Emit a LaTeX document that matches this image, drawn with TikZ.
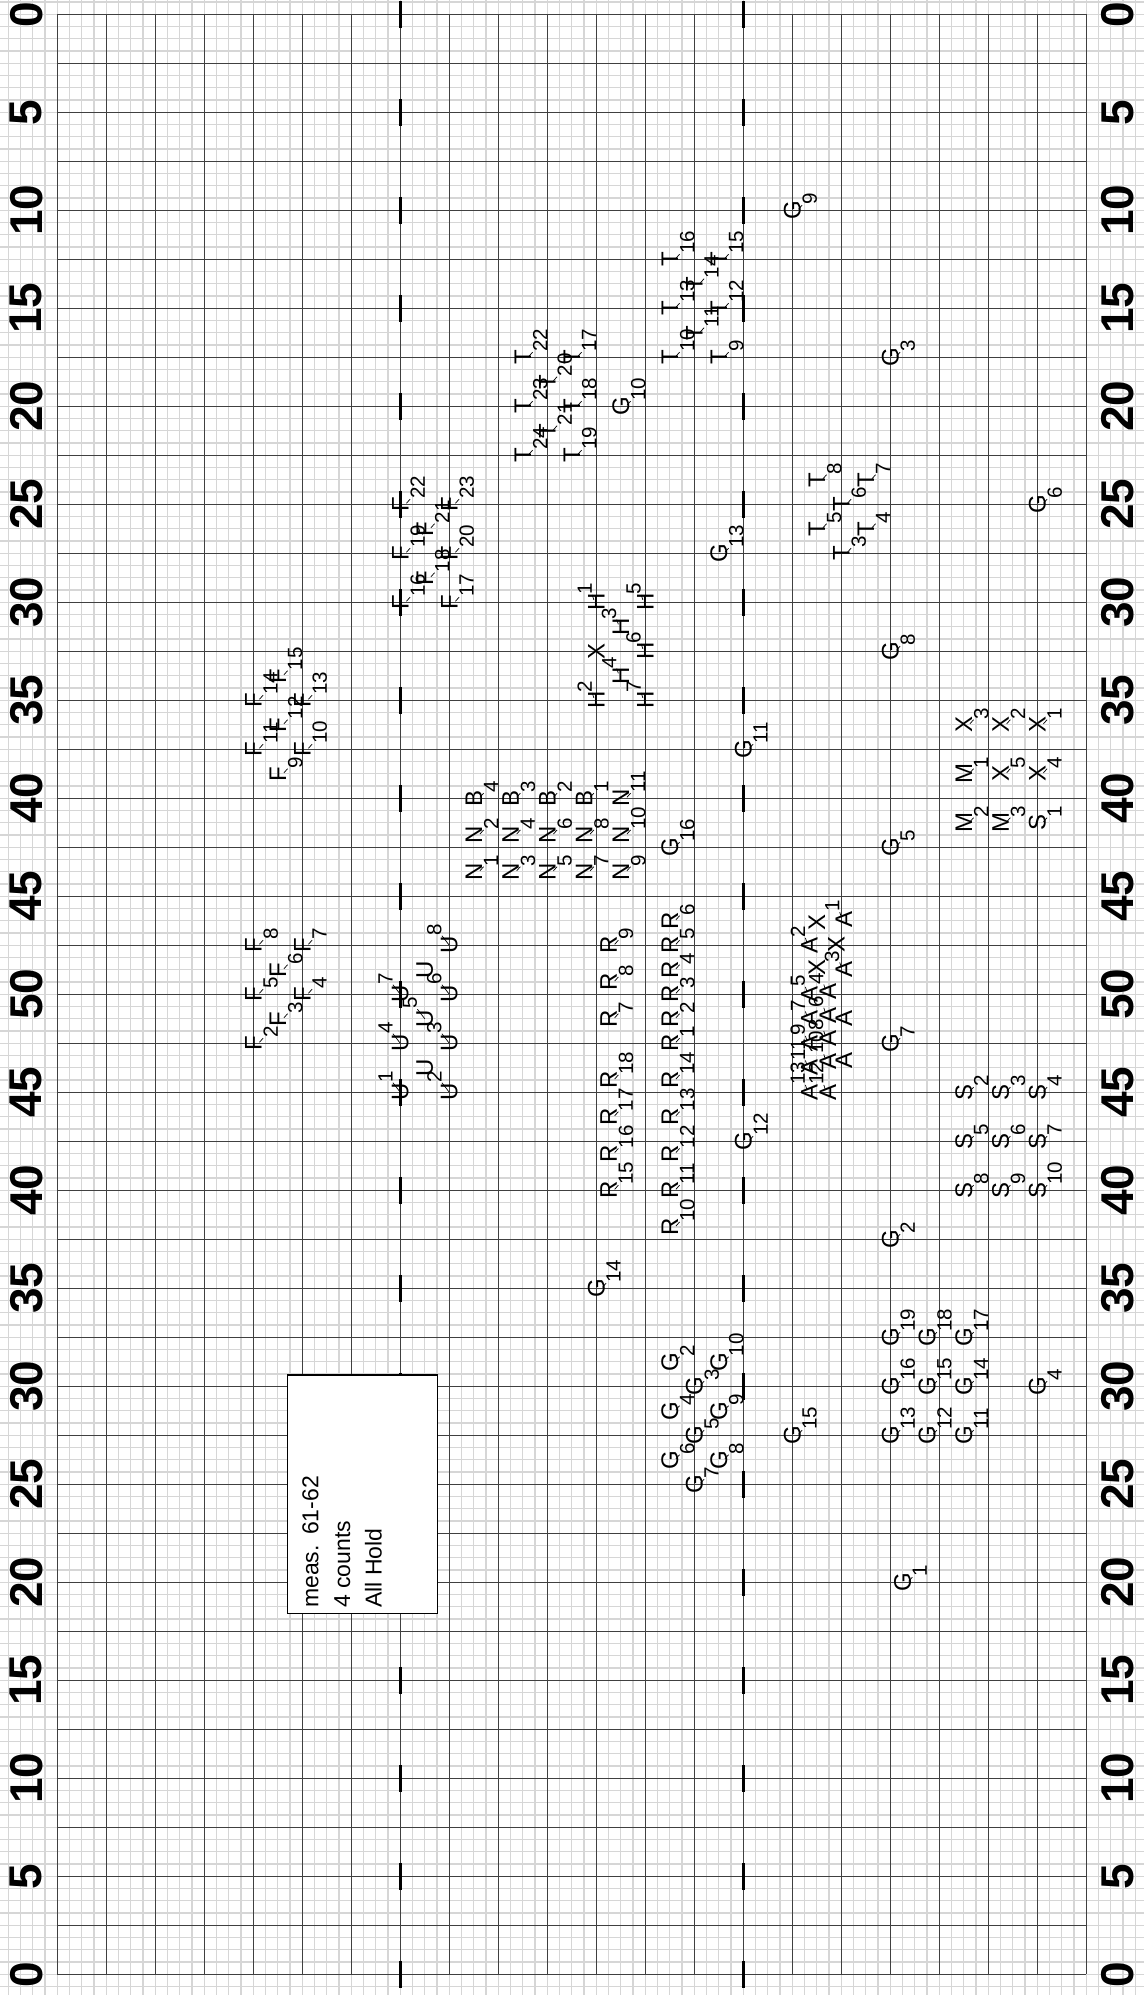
\documentclass[tikz,border=0pt]{standalone}
\usepackage{fontspec}
\setmainfont{Liberation Sans}
\usetikzlibrary{calc}
\definecolor{lightgrid}{HTML}{D6D6D6}
\definecolor{majorgrid}{HTML}{404040}
\tikzset{
 lgrid/.style={draw=lightgrid, line width=0.6pt},
 mgrid/.style={draw=majorgrid, line width=0.75pt},
 hashmark/.style={draw=black, line width=1.4pt},
 yardnum/.style={rotate=90, inner sep=0pt, font=\fontsize{23}{23}\selectfont\bfseries},
 mlet/.style={rotate=90, inner sep=0pt, font=\fontsize{12}{12}\selectfont},
 mnum/.style={rotate=90, inner sep=0pt, font=\fontsize{10.3}{10.3}\selectfont},
 leader/.style={draw=black, line width=0.35pt},
 memo/.style={rotate=90, inner sep=0pt, anchor=base west, font=\fontsize{11.5}{11.5}\selectfont},
}
% sub-style label (number to the lower right of the letter)
\newcommand\mkb[5]{%
  \coordinate (#1) at (#2,#3);
  \node[mnum,anchor=north west] (#1n) at ($(#1)+(0.8,-0.42)$) {#5};
  \draw[leader] ($(#1)+(0.5,-0.08)$) -- (#1n.north west);
  \node[mlet] (#1l) at (#1) {#4};}
% super-style label (number to the upper right of the letter)
\newcommand\mkp[5]{%
  \coordinate (#1) at (#2,#3);
  \node[mnum,anchor=south west] (#1n) at ($(#1)+(-0.33,-0.6)$) {#5};
  \draw[leader] ($(#1)+(-0.2,-0.2)$) -- (#1n.south west);
  \node[mlet] (#1l) at (#1) {#4};}
% super-style label placed farther away
\newcommand\mku[5]{%
  \coordinate (#1) at (#2,#3);
  \node[mnum,anchor=south west] (#1n) at ($(#1)+(-0.6,-0.78)$) {#5};
  \draw[leader] (#1) -- (#1n.south west);
  \node[mlet] (#1l) at (#1) {#4};}
% letter only
\newcommand\mkx[4]{%
  \coordinate (#1) at (#2,#3);
  \node[mlet] (#1l) at (#1) {#4};}
\begin{document}
\begin{tikzpicture}[x=6.125pt,y=-6.125pt]
\useasboundingbox (-4.678,-1.167) rectangle (88.71,161.69);
\fill[white] (-4.678,-1.167) rectangle (88.71,161.69);
% light step grid
\foreach \i in {-4,...,88} \draw[lgrid] (\i,-1.167) -- (\i,161.69);
\foreach \j in {-1,...,161} \draw[lgrid] (-4.678,\j) -- (88.71,\j);
% major grid
\foreach \i in {0,4,...,84} \draw[mgrid] (\i,0) -- (\i,160);
\foreach \j in {0,4,...,160} \draw[mgrid] (0,\j) -- (84,\j);
% hash marks
\foreach \j in {0,8,...,160} {
  \draw[hashmark] (28,\j-1.1) -- (28,\j+1.1);
  \draw[hashmark] (56,\j-1.1) -- (56,\j+1.1);
}
% yard numbers
\foreach \k in {0,...,20} {
  \pgfmathtruncatemacro\lab{5*min(\k,20-\k)}
  \node[yardnum] (yl\k) at (-2.531,8*\k) {\lab};
  \node[yardnum] (yr\k) at (86.56,8*\k) {\lab};
}
% memo box
\node[draw=black, line width=0.6pt, fill=white, inner sep=0pt, minimum width=75pt, minimum height=119.15pt] (memo) at (24.898,120.8) {};
\node[memo] (memo1) at (21.306,130.12) {meas.\hspace{0.45em}61-62};
\node[memo] (memo2) at (23.894,130.12) {4 counts};
\node[memo] (memo3) at (26.482,130.12) {All Hold};
% ---- G singles
\mkb{ga1}{69}{128}{G}{1}
\mkb{ga2}{68}{100}{G}{2}
\mkb{ga3}{68}{28}{G}{3}
\mkb{ga4}{80}{112}{G}{4}
\mkb{ga5}{68}{68}{G}{5}
\mkb{ga6}{80}{40}{G}{6}
\mkb{ga7}{68}{84}{G}{7}
\mkb{ga8}{68}{52}{G}{8}
\mkb{ga9}{60}{16}{G}{9}
\mkb{ga10}{46}{32}{G}{10}
\mkb{ga11}{56}{60}{G}{11}
\mkb{ga12}{56}{92}{G}{12}
\mkb{ga13}{54}{44}{G}{13}
\mkb{ga14}{44}{104}{G}{14}
\mkb{ga15}{60}{116}{G}{15}
\mkb{ga16}{50}{68}{G}{16}
% ---- G cluster
\mkb{gb2}{50}{110}{G}{2}
\mkb{gb3}{52}{112}{G}{3}
\mkb{gb4}{50}{114}{G}{4}
\mkb{gb5}{52}{116}{G}{5}
\mkb{gb6}{50}{118}{G}{6}
\mkb{gb7}{52}{120}{G}{7}
\mkb{gb8}{54}{118}{G}{8}
\mkb{gb9}{54}{114}{G}{9}
\mkb{gb10}{54}{110}{G}{10}
% ---- G block lower right
\mkb{gc11}{74}{116}{G}{11}
\mkb{gc12}{71}{116}{G}{12}
\mkb{gc13}{68}{116}{G}{13}
\mkb{gc14}{74}{112}{G}{14}
\mkb{gc15}{71}{112}{G}{15}
\mkb{gc16}{68}{112}{G}{16}
\mkb{gc17}{74}{108}{G}{17}
\mkb{gc18}{71}{108}{G}{18}
\mkb{gc19}{68}{108}{G}{19}
% ---- T
\mkb{t3}{64}{44}{T}{3}
\mkb{t4}{66}{42}{T}{4}
\mkb{t5}{62}{42}{T}{5}
\mkb{t6}{64}{40}{T}{6}
\mkb{t7}{66}{38}{T}{7}
\mkb{t8}{62}{38}{T}{8}
\mkb{t9}{54}{28}{T}{9}
\mkb{t10}{50}{28}{T}{10}
\mkb{t11}{52}{26}{T}{11}
\mkb{t12}{54}{24}{T}{12}
\mkb{t13}{50}{24}{T}{13}
\mkb{t14}{52}{22}{T}{14}
\mkb{t15}{54}{20}{T}{15}
\mkb{t16}{50}{20}{T}{16}
\mkb{t17}{42}{28}{T}{17}
\mkb{t18}{42}{32}{T}{18}
\mkb{t19}{42}{36}{T}{19}
\mkb{t20}{40}{30}{T}{20}
\mkb{t21}{40}{34}{T}{21}
\mkb{t22}{38}{28}{T}{22}
\mkb{t23}{38}{32}{T}{23}
\mkb{t24}{38}{36}{T}{24}
% ---- F
\mkb{f2}{16}{84}{F}{2}
\mkb{f3}{18}{82}{F}{3}
\mkb{f4}{20}{80}{F}{4}
\mkb{f5}{16}{80}{F}{5}
\mkb{f6}{18}{78}{F}{6}
\mkb{f7}{20}{76}{F}{7}
\mkb{f8}{16}{76}{F}{8}
\mkb{f9}{18}{62}{F}{9}
\mkb{f10}{20}{60}{F}{10}
\mkb{f11}{16}{60}{F}{11}
\mkb{f12}{18}{58}{F}{12}
\mkb{f13}{20}{56}{F}{13}
\mkb{f14}{16}{56}{F}{14}
\mkb{f15}{18}{54}{F}{15}
\mkb{f16}{28}{48}{F}{16}
\mkb{f17}{32}{48}{F}{17}
\mkb{f18}{30}{46}{F}{18}
\mkb{f19}{28}{44}{F}{19}
\mkb{f20}{32}{44}{F}{20}
\mkb{f21}{30}{42}{F}{21}
\mkb{f22}{28}{40}{F}{22}
\mkb{f23}{32}{40}{F}{23}
% ---- H
\mkp{h1}{44}{48}{H}{1}
\mkp{h2}{44}{56}{H}{2}
\mkp{h3}{46}{50}{H}{3}
\mkp{h4}{46}{54}{H}{4}
\mkp{h5}{48}{48}{H}{5}
\mkp{h6}{48}{52}{H}{6}
\mkp{h7}{48}{56}{H}{7}
\mkx{hx}{44}{52}{X}
% ---- B, N
\mkb{b1}{43}{64}{B}{1}
\mkb{b2}{40}{64}{B}{2}
\mkb{b3}{37}{64}{B}{3}
\mkb{b4}{34}{64}{B}{4}
\mkb{n1}{34}{70}{N}{1}
\mkb{n2}{34}{67}{N}{2}
\mkb{n3}{37}{70}{N}{3}
\mkb{n4}{37}{67}{N}{4}
\mkb{n5}{40}{70}{N}{5}
\mkb{n6}{40}{67}{N}{6}
\mkb{n7}{43}{70}{N}{7}
\mkb{n8}{43}{67}{N}{8}
\mkb{n9}{46}{70}{N}{9}
\mkb{n10}{46}{67}{N}{10}
\mkb{n11}{46}{64}{N}{11}
% ---- U
\mku{u1}{28}{88}{U}{1}
\mku{u2}{32}{88}{U}{2}
\mku{u3}{32}{84}{U}{3}
\mku{u4}{28}{84}{U}{4}
\mku{u5}{30}{82}{U}{5}
\mku{u6}{32}{80}{U}{6}
\mku{u7}{28}{80}{U}{7}
\mku{u8}{32}{76}{U}{8}
\mkx{ux1}{30}{86}{U}
\mkx{ux2}{30}{78}{U}
% ---- R
\mkb{r1}{50}{84}{R}{1}
\mkb{r2}{50}{82}{R}{2}
\mkb{r3}{50}{80}{R}{3}
\mkb{r4}{50}{78}{R}{4}
\mkb{r5}{50}{76}{R}{5}
\mkb{r6}{50}{74}{R}{6}
\mkb{r7}{45}{82}{R}{7}
\mkb{r8}{45}{79}{R}{8}
\mkb{r9}{45}{76}{R}{9}
\mkb{r10}{50}{99}{R}{10}
\mkb{r11}{50}{96}{R}{11}
\mkb{r12}{50}{93}{R}{12}
\mkb{r13}{50}{90}{R}{13}
\mkb{r14}{50}{87}{R}{14}
\mkb{r15}{45}{96}{R}{15}
\mkb{r16}{45}{93}{R}{16}
\mkb{r17}{45}{90}{R}{17}
\mkb{r18}{45}{87}{R}{18}
% ---- S, M, X
\mkb{s1}{80}{66}{S}{1}
\mkb{s2}{74}{88}{S}{2}
\mkb{s3}{77}{88}{S}{3}
\mkb{s4}{80}{88}{S}{4}
\mkb{s5}{74}{92}{S}{5}
\mkb{s6}{77}{92}{S}{6}
\mkb{s7}{80}{92}{S}{7}
\mkb{s8}{74}{96}{S}{8}
\mkb{s9}{77}{96}{S}{9}
\mkb{s10}{80}{96}{S}{10}
\mkb{m1}{74}{62}{M}{1}
\mkb{m2}{74}{66}{M}{2}
\mkb{m3}{77}{66}{M}{3}
\mkb{x1}{80}{58}{X}{1}
\mkb{x2}{77}{58}{X}{2}
\mkb{x3}{74}{58}{X}{3}
\mkb{x4}{80}{62}{X}{4}
\mkb{x5}{77}{62}{X}{5}
% ---- A cluster (approximate)
\mkp{a1}{64.2}{73.9}{A}{1}
\mkx{ax1}{62.0}{74.1}{X}
\mkp{a2}{61.4}{76}{A}{2}
\mkx{ax2}{63.6}{75.9}{X}
\mkp{a3}{64.2}{78}{A}{3}
\mkx{ax3}{62.0}{77.8}{X}
\mkp{a4}{62.9}{79.8}{A}{4}
\mkp{a5}{61.4}{80}{A}{5}
\mkp{a6}{62.9}{81.7}{A}{6}
\mkp{a7}{61.4}{82}{A}{7}
\mkx{ax4}{64.2}{82}{A}
\mkp{a8}{62.9}{83.6}{A}{8}
\mkp{a9}{61.4}{84}{A}{9}
\mkp{a10}{62.9}{85.5}{A}{10}
\mkx{ax5}{64.2}{85.4}{A}
\mkp{a11}{61.4}{86}{A}{11}
\mkp{a12}{62.9}{88}{A}{12}
\mkp{a13}{61.4}{88}{A}{13}
\end{tikzpicture}
\end{document}
